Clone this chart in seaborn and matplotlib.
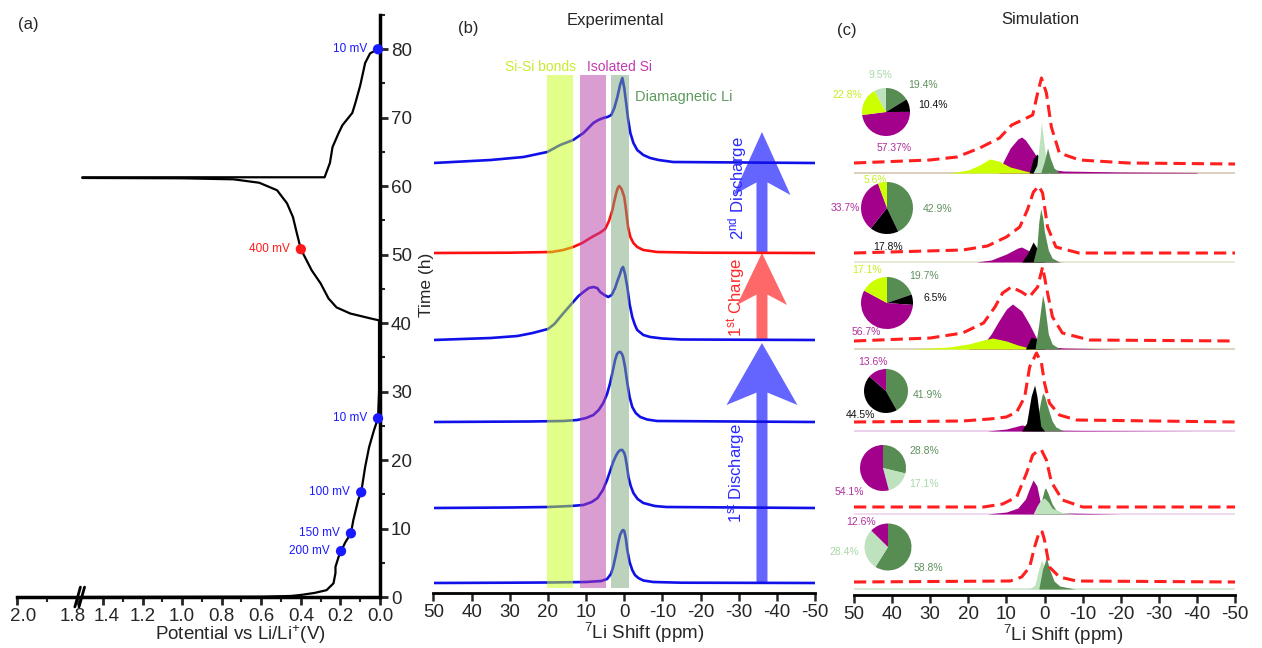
import numpy as np
import matplotlib
matplotlib.use("Agg")
import matplotlib.pyplot as plt
import seaborn as sns
from matplotlib.patches import Polygon
from matplotlib.ticker import FixedLocator, MultipleLocator, FormatStrFormatter
from matplotlib.transforms import ScaledTranslation

# ---------------- data: panel (a) ----------------
dis1_V = [1.73, 0.60, 0.45, 0.40, 0.33, 0.27, 0.235, 0.225, 0.225, 0.21, 0.197, 0.175, 0.147, 0.135, 0.11, 0.095, 0.075, 0.055, 0.03, 0.01, 0.005, 0.005]
dis1_t = [0.0, 0.05, 0.15, 0.3, 0.6, 1.0, 2.0, 3.5, 4.4, 5.8, 6.7, 8.0, 9.3, 11.2, 14.2, 15.3, 19.0, 21.9, 24.4, 26.1, 30.0, 40.4]
chg_V = [0.005, 0.05, 0.15, 0.22, 0.26, 0.30, 0.345, 0.40, 0.42, 0.44, 0.47, 0.52, 0.61, 0.74, 1.0, 1.73]
chg_t = [40.4, 40.7, 41.4, 42.3, 43.6, 45.8, 47.7, 50.8, 53.1, 55.5, 57.5, 59.4, 60.5, 61.0, 61.15, 61.2]
dis2_V = [1.73, 0.28, 0.253, 0.24, 0.21, 0.19, 0.14, 0.125, 0.10, 0.075, 0.05, 0.01]
dis2_t = [61.3, 61.3, 63.4, 65.7, 67.7, 68.9, 70.7, 72.1, 74.7, 78.0, 79.4, 80.0]
mark_blue_V = [0.197, 0.147, 0.095, 0.01, 0.01]
mark_blue_t = [6.7, 9.3, 15.3, 26.1, 80.0]
mark_blue_lab = ["200 mV", "150 mV", "100 mV", "10 mV", "10 mV"]
mark_red_V = [0.40]
mark_red_t = [50.8]
mark_red_lab = ["400 mV"]
a_xticks = [2.0, 1.8, 1.4, 1.2, 1.0, 0.8, 0.6, 0.4, 0.2, 0.0]
a_xminor = [1.9, 1.3, 1.1, 0.9, 0.7, 0.5, 0.3, 0.1]

# ---------------- data: panel (b) experimental ----------------
exp1_x = [50, 30, 20, 10, 6, 4.5, 3.5, 2.9, 2.2, 1.6, 1.1, 0.6, 0.3, 0, -0.4, -0.8, -1.4, -2.1, -2.8, -3.7, -5, -7.6, -15, -50]
exp1_y = [0, 0.3, 0.5, 1, 2, 4, 9, 16, 28, 40, 48, 52, 53, 52, 45, 33, 21, 13, 8, 5, 2.5, 1, 0.3, 0]
exp2_x = [50, 30, 20, 14, 10.7, 8.5, 7, 5.6, 4.5, 3.6, 2.9, 2.2, 1.6, 1.0, 0.5, 0, -0.3, -0.7, -1.1, -1.7, -2.4, -3.5, -5, -8, -11, -50]
exp2_y = [0, 0.5, 1, 2, 3, 6, 10, 18, 28, 38, 46, 52, 56, 58, 58, 55, 51, 42, 31, 22, 15, 9, 5, 2, 1, 0]
exp3_x = [50, 25, 16, 12.3, 10, 8.1, 6.7, 5.5, 4.5, 3.7, 3.0, 2.4, 1.9, 1.4, 1.0, 0.6, 0.3, -0.2, -0.8, -1.4, -2.1, -3, -4.2, -6, -8.6, -50]
exp3_y = [0, 0.5, 1, 2, 4, 7, 12, 19, 28, 39, 51, 62, 68, 70, 70, 68, 65, 55, 39, 25, 15, 9, 5, 2.5, 1, 0]
exp4_x = [50, 35, 28, 24, 20, 18.3, 16.8, 15, 13.4, 12, 10.7, 9.3, 8.1, 7.1, 6.3, 5.2, 4.2, 3.3, 2.4, 1.7, 1.2, 0.7, 0.3, -0.2, -0.8, -1.4, -2.1, -2.8, -3.4, -5, -6.8, -10, -15, -50]
exp4_y = [0, 2, 4, 7, 11, 16, 23, 31, 38, 44, 48, 52, 53, 52, 48, 45, 43, 45, 52, 60, 65, 71, 73, 66, 53, 36, 23, 15, 10, 5, 3, 1.5, 0.5, 0]
exp5_x = [50, 30, 19, 16, 13.4, 11, 8.9, 7.5, 6.5, 5.0, 4, 3.1, 2.6, 2.1, 1.7, 1.3, 0.7, 0, -0.5, -1, -1.6, -2.4, -3.4, -5, -8.6, -20, -50]
exp5_y = [0, 0.3, 1, 3, 6, 10, 15, 18, 20, 24, 32, 43, 52, 60, 65, 67, 64, 56, 42, 26, 16, 10, 6, 3, 1, 0.3, 0]
exp6_x = [50, 35, 26.4, 20.2, 16.8, 13.4, 10.7, 8.1, 6.8, 5.5, 4.4, 3.4, 2.6, 1.8, 1.1, 0.5, 0, -0.5, -1.0, -1.6, -2.4, -3.4, -5, -6.8, -9, -12.8, -50]
exp6_y = [0, 3, 6, 11, 18, 23, 30, 40, 43, 45, 46, 48, 55, 66, 78, 85, 75, 60, 44, 30, 20, 13, 8, 5, 3, 1, 0]
exp_offsets = [10, 85, 171, 253, 340, 430]
exp_colors = ["#1010e8", "#1010e8", "#1010e8", "#1010e8", "#ff1010", "#1010e8"]
band_lo = [20.2, 11.6, 3.5]
band_hi = [13.4, 4.8, -1.2]
band_names = ["Si-Si bonds", "Isolated Si", "Diamagnetic Li"]
ppm_ticks = [50, 40, 30, 20, 10, 0, -10, -20, -30, -40, -50]

# ---------------- data: panel (c) simulation (rows from bottom) ----------------
sim1_env_x = [50, 9, 6, 3.9, 2.6, 1.3, 0.6, 0, -1.3, -3.9, -8.4, -50]
sim1_env_y = [7, 8, 12, 22, 42, 58, 57, 49, 22, 12, 8, 7]
sim1_lg_x = [4, 2.5, 1.5, 0.8, 0, -1, -2, -4]
sim1_lg_y = [0, 4, 20, 29, 22, 10, 4, 0]
sim1_dg_x = [1.5, 0.5, -0.5, -1.5, -2.5, -4, -8]
sim1_dg_y = [0, 20, 31, 18, 8, 3, 0]
sim1_pie = [58.8, 28.4, 12.6]

sim2_env_x = [50, 16, 11, 7.3, 4.7, 3.1, 1.8, 0.8, -0.5, -1.8, -4.7, -10, -50]
sim2_env_y = [7, 7, 10, 17, 41, 59, 63, 64, 54, 32, 14, 7, 7]
sim2_mg_x = [15, 10, 7, 5, 4, 3, 2, 1, 0, -5, -20]
sim2_mg_y = [0, 2, 6, 15, 25, 34, 28, 10, 3, 1, 0]
sim2_dg_x = [2, 1, 0, -0.3, -1, -2, -3, -5]
sim2_dg_y = [0, 10, 25, 26, 20, 10, 4, 0]
sim2_lg_x = [3, 2, 1, 0, -1, -2, -4, -8]
sim2_lg_y = [0, 8, 14, 16, 12, 6, 2, 0]
sim2_pie = [28.8, 17.1, 54.1]

sim3_env_x = [50, 21.5, 14.4, 10, 7.3, 5.2, 3.9, 2.1, 0.8, 0, -1.3, -3.9, -8.4, -50]
sim3_env_y = [9, 10, 12, 14, 19, 34, 64, 78, 68, 48, 28, 16, 11, 9]
sim3_mg_x = [15, 10, 6, 3, 0, -10, -40]
sim3_mg_y = [0, 2, 6, 4, 1, 0.5, 0]
sim3_dg_x = [3, 2, 1, 0.5, 0, -1, -2, -3, -5]
sim3_dg_y = [0, 10, 30, 38, 35, 22, 10, 4, 0]
sim3_bk_x = [6, 4.7, 3.5, 2.6, 2, 1.5, 1, 0]
sim3_bk_y = [0, 8, 35, 46, 35, 20, 5, 0]
sim3_pie = [41.9, 44.5, 13.6]

sim4_env_x = [50, 30, 21.5, 16, 13, 11, 8.7, 6, 4, 1.8, 0.5, -0.8, -2.1, -4.7, -11.8, -50]
sim4_env_y = [8, 11, 16, 26, 42, 56, 62, 57, 52, 62, 82, 56, 32, 16, 9, 8]
sim4_mg_x = [20, 16, 14, 12, 10, 8.4, 6, 4, 2, 0, -5, -20]
sim4_mg_y = [0, 5, 15, 28, 40, 45, 38, 25, 10, 3, 1, 0]
sim4_yl_x = [35, 25, 20, 16, 13.6, 10, 7, 4, 0]
sim4_yl_y = [0, 2, 5, 9, 11, 8, 4, 1, 0]
sim4_bk_x = [5, 3.5, 2, 1, 0]
sim4_bk_y = [0, 12, 10, 3, 0]
sim4_dg_x = [2.5, 1.5, 0.5, 0, -0.5, -1, -2, -4]
sim4_dg_y = [0, 25, 54, 45, 30, 15, 5, 0]
sim4_pie = [19.7, 6.5, 56.7, 17.1]

sim5_env_x = [50, 21.5, 15, 10, 6.5, 4.5, 2.9, 1.5, 0.5, -0.8, -3, -9, -50]
sim5_env_y = [9, 12, 16, 25, 35, 52, 70, 76, 69, 35, 15, 9, 9]
sim5_mg_x = [18, 14, 10, 7, 6, 4, 2, 0, -5]
sim5_mg_y = [0, 2, 8, 14, 15, 11, 5, 1, 0]
sim5_bk_x = [6, 4.5, 3, 2, 1, 0]
sim5_bk_y = [0, 8, 20, 14, 5, 0]
sim5_dg_x = [3, 2, 1.5, 1, 0.5, 0, -1, -2, -4]
sim5_dg_y = [0, 15, 40, 53, 45, 30, 12, 4, 0]
sim5_pie = [42.9, 17.8, 33.7, 5.6]

sim6_env_x = [50, 30.1, 23, 17, 11.8, 8.6, 5.8, 3.1, 1.8, 0.8, -0.5, -1.8, -3.9, -9.2, -22, -50]
sim6_env_y = [10, 13, 16, 25, 35, 48, 53, 58, 80, 95, 80, 46, 20, 13, 10, 9]
sim6_yl_x = [25, 20, 17, 14.4, 12, 9, 5, 3]
sim6_yl_y = [0, 3, 8, 14, 12, 6, 2, 0]
sim6_mg_x = [12, 11, 9, 7, 6, 5, 3, 1, -1, -5, -20, -40]
sim6_mg_y = [0, 10, 25, 34, 36, 33, 22, 10, 4, 2, 1, 0.5]
sim6_bk_x = [4, 3, 2, 1, 0, -1]
sim6_bk_y = [0, 14, 19, 14, 4, 0]
sim6_lg_x = [3, 2, 1.2, 0.8, 0.3, -0.5, -1.5]
sim6_lg_y = [0, 8, 35, 51, 35, 10, 0]
sim6_dg_x = [1, 0, -0.8, -1.5, -2.5, -4]
sim6_dg_y = [0, 12, 25, 15, 5, 0]
sim6_pie = [19.4, 10.4, 57.37, 22.8, 9.5]

sim_offsets = [6, 81, 164, 246, 333, 422]

# ---------------- colours ----------------
C_YEL = "#ccff00"
C_MAG = "#a3008c"
C_BLK = "#000000"
C_LG = "#bde2bd"
C_DG = "#578c53"
C_RED = "#ff1f1f"

# ---------------- style ----------------
sns.set_style("white")
plt.rcParams["font.family"] = ["Liberation Sans", "DejaVu Sans"]
plt.rcParams["mathtext.fontset"] = "custom"
plt.rcParams["mathtext.rm"] = "Liberation Sans"
plt.rcParams["mathtext.it"] = "Liberation Sans:italic"
plt.rcParams["mathtext.bf"] = "Liberation Sans:bold"

W, H = 1262, 648
fig = plt.figure(figsize=(W / 100, H / 100), dpi=100)


def rect(l, t, r, b):
    return [l / W, 1 - b / H, (r - l) / W, (b - t) / H]


def fwd(v):
    v = np.asarray(v, dtype=float)
    return np.where(v <= 1.4, v, np.where(v <= 1.8, 1.4 + (v - 1.4) * 0.316, 1.5264 + (v - 1.8) * 1.54))


def inv(p):
    p = np.asarray(p, dtype=float)
    return np.where(p <= 1.4, p, np.where(p <= 1.5264, 1.4 + (p - 1.4) / 0.316, 1.8 + (p - 1.5264) / 1.54))


TICK_FS = 13.5

# ================= panel (a) =================
axA = fig.add_axes(rect(17, 15, 380, 597))
for xs, ys in [(dis1_V, dis1_t), (chg_V, chg_t), (dis2_V, dis2_t)]:
    sns.lineplot(x=xs, y=ys, sort=False, estimator=None, color="black", linewidth=1.6, ax=axA)
sns.scatterplot(x=mark_blue_V, y=mark_blue_t, color="#1a1aff", s=55, edgecolor="none", ax=axA, zorder=5, clip_on=False)
sns.scatterplot(x=mark_red_V, y=mark_red_t, color="#ff1a1a", s=55, edgecolor="none", ax=axA, zorder=5)
for v, t, lab in zip(mark_blue_V, mark_blue_t, mark_blue_lab):
    axA.annotate(lab, (v, t), xytext=(-8, 0), textcoords="offset points", ha="right", va="center",
                 fontsize=8.5, color="#1a1aff")
for v, t, lab in zip(mark_red_V, mark_red_t, mark_red_lab):
    axA.annotate(lab, (v, t), xytext=(-8, 0), textcoords="offset points", ha="right", va="center",
                 fontsize=8.5, color="#ff1a1a")
axA.set_xscale("function", functions=(fwd, inv))
axA.set_xlim(2.0, 0.0)
axA.set_ylim(0, 85)
axA.xaxis.set_major_locator(FixedLocator(a_xticks))
axA.xaxis.set_minor_locator(FixedLocator(a_xminor))
axA.xaxis.set_major_formatter(FormatStrFormatter("%.1f"))
axA.yaxis.set_major_locator(MultipleLocator(10))
axA.yaxis.set_minor_locator(MultipleLocator(5))
axA.yaxis.tick_right()
for s in ["top", "left"]:
    axA.spines[s].set_visible(False)
for s in ["right", "bottom"]:
    axA.spines[s].set_linewidth(2.5)
    axA.spines[s].set_color("black")
axA.tick_params(which="major", direction="out", length=6, width=2, labelsize=TICK_FS, pad=2,
                bottom=True, right=True, left=False)
axA.tick_params(which="minor", direction="out", length=3.5, width=1.5, bottom=True, right=True, left=False)
axA.set_xlabel("Potential vs Li/Li$^{+}$(V)", fontsize=13.5)
axA.xaxis.set_label_coords(0.614, -0.045)
axA.set_ylabel("")
axA.text(1.129, 0.536, "Time (h)", transform=axA.transAxes, rotation=90, ha="center", va="center", fontsize=12.5)
for pc in (1.507, 1.528):
    xs = inv(np.array([pc + 0.014, pc - 0.014]))
    axA.plot(xs, [-0.017, 0.017], transform=axA.get_xaxis_transform(), color="black", lw=2, clip_on=False)

# ================= panel (b) =================
axB = fig.add_axes(rect(433.5, 40, 815, 593))
exp_x = [exp1_x, exp2_x, exp3_x, exp4_x, exp5_x, exp6_x]
exp_y = [exp1_y, exp2_y, exp3_y, exp4_y, exp5_y, exp6_y]
for xs, ys, off, col in zip(exp_x, exp_y, exp_offsets, exp_colors):
    sns.lineplot(x=xs, y=np.array(ys) + off, sort=False, estimator=None, color=col, linewidth=1.9, ax=axB, zorder=2)

band_cols = ["#c6ff17", "#b43ca6", "#7aa67a"]
for lo, hi, c in zip(band_lo, band_hi, band_cols):
    axB.axvspan(hi, lo, ymin=5 / 553, ymax=518 / 553, color=c, alpha=0.5, lw=0, zorder=3)
axB.text(22.0, 526, band_names[0], color="#c5ec2e", fontsize=10, ha="center", va="center")
axB.text(1.3, 526, band_names[1], color="#c23bb0", fontsize=10, ha="center", va="center")
axB.text(-2.9, 496, band_names[2], color="#5e9a5e", fontsize=10.5, ha="left", va="center")

ppm_per_px = 100 / 381.5


def arrow_poly(ax, x0, y0, y1, sw_px, hw_px, hl_px, color):
    sw = sw_px / 2 * ppm_per_px
    hw = hw_px / 2 * ppm_per_px
    notch = hl_px * 0.2
    pts = [(x0 + sw, y0), (x0 + sw, y1 - hl_px + notch), (x0 + hw, y1 - hl_px), (x0, y1),
           (x0 - hw, y1 - hl_px), (x0 - sw, y1 - hl_px + notch), (x0 - sw, y0)]
    ax.add_patch(Polygon(pts, closed=True, facecolor=color, edgecolor="none", zorder=1))


ax_x = -36.1
arrow_poly(axB, ax_x, 10, 250, 11, 71, 62, "#6464ff")
arrow_poly(axB, ax_x, 252, 340, 11, 50, 52, "#ff6868")
arrow_poly(axB, ax_x, 340, 461, 11, 57, 63, "#6464ff")
axB.text(-29.6, 120, r"1$^{\mathregular{st}}$ Discharge", rotation=90, color="#2a2aff", fontsize=12, ha="center", va="center")
axB.text(-29.6, 296, r"1$^{\mathregular{st}}$ Charge", rotation=90, color="#ff2a2a", fontsize=12, ha="center", va="center")
axB.text(-29.6, 405, r"2$^{\mathregular{nd}}$ Discharge", rotation=90, color="#2a2aff", fontsize=12, ha="center", va="center")

# ================= panel (c) =================
axC = fig.add_axes(rect(854, 40, 1235, 595))
rows = [
    dict(env=(sim1_env_x, sim1_env_y), comps=[(sim1_lg_x, sim1_lg_y, C_LG), (sim1_dg_x, sim1_dg_y, C_DG)],
         pie=sim1_pie, pcols=[C_DG, C_LG, C_MAG], base="#cfe6cf"),
    dict(env=(sim2_env_x, sim2_env_y), comps=[(sim2_mg_x, sim2_mg_y, C_MAG), (sim2_dg_x, sim2_dg_y, C_DG), (sim2_lg_x, sim2_lg_y, C_LG)],
         pie=sim2_pie, pcols=[C_DG, C_LG, C_MAG], base="#ecd4ec"),
    dict(env=(sim3_env_x, sim3_env_y), comps=[(sim3_mg_x, sim3_mg_y, C_MAG), (sim3_dg_x, sim3_dg_y, C_DG), (sim3_bk_x, sim3_bk_y, C_BLK)],
         pie=sim3_pie, pcols=[C_DG, C_BLK, C_MAG], base="#e8c8e8"),
    dict(env=(sim4_env_x, sim4_env_y), comps=[(sim4_mg_x, sim4_mg_y, C_MAG), (sim4_yl_x, sim4_yl_y, C_YEL), (sim4_bk_x, sim4_bk_y, C_BLK), (sim4_dg_x, sim4_dg_y, C_DG)],
         pie=sim4_pie, pcols=[C_DG, C_BLK, C_MAG, C_YEL], base="#d8ceb4"),
    dict(env=(sim5_env_x, sim5_env_y), comps=[(sim5_mg_x, sim5_mg_y, C_MAG), (sim5_bk_x, sim5_bk_y, C_BLK), (sim5_dg_x, sim5_dg_y, C_DG)],
         pie=sim5_pie, pcols=[C_DG, C_BLK, C_MAG, C_YEL], base="#dfe6cc"),
    dict(env=(sim6_env_x, sim6_env_y), comps=[(sim6_mg_x, sim6_mg_y, C_MAG), (sim6_yl_x, sim6_yl_y, C_YEL), (sim6_bk_x, sim6_bk_y, C_BLK),
                                              (sim6_lg_x, sim6_lg_y, C_LG), (sim6_dg_x, sim6_dg_y, C_DG)],
         pie=sim6_pie, pcols=[C_DG, C_BLK, C_MAG, C_YEL, C_LG], base="#d4c6b0"),
]
for row, off in zip(rows, sim_offsets):
    axC.axhline(off, color=row["base"], lw=1.2, zorder=1)
    for xs, ys, c in row["comps"]:
        axC.fill_between(xs, off, np.array(ys) + off, color=c, lw=0, zorder=2)
    ex, ey = row["env"]
    sns.lineplot(x=ex, y=np.array(ey) + off, sort=False, estimator=None, color=C_RED, linewidth=2.2,
                 linestyle="--", ax=axC, zorder=4)
    axC.lines[-1].set_dashes((4, 2))

# pies (centre x, centre y, radius in pixels)
pie_geom = [(888, 547, 23.5), (883, 468, 23), (886, 391, 22), (887, 303, 26), (887, 208, 26), (886, 112, 24)]
for row, (cx, cy, r) in zip(rows, pie_geom):
    pax = fig.add_axes(rect(cx - r, cy - r, cx + r, cy + r))
    pax.pie(row["pie"], colors=row["pcols"], startangle=90, counterclock=False, wedgeprops=dict(linewidth=0))
    pax.set_xlim(-1, 1)
    pax.set_ylim(-1, 1)
    pax.set_aspect("equal")
    pax.axis("off")

TXT_LG = "#a8d8a8"
TXT_DG = "#5e905e"
TXT_MG = "#b0309c"
TXT_YL = "#c4f020"
pie_labels = [
    [("58.8%", 928, 568, TXT_DG), ("28.4%", 844, 552, TXT_LG), ("12.6%", 861, 522, TXT_MG)],
    [("28.8%", 924, 451, TXT_DG), ("17.1%", 924, 484, TXT_LG), ("54.1%", 849, 492, TXT_MG)],
    [("41.9%", 928, 395, TXT_DG), ("44.5%", 860, 415, "#111111"), ("13.6%", 873, 362, TXT_MG)],
    [("19.7%", 924, 276, TXT_DG), ("6.5%", 935, 298, "#111111"), ("56.7%", 866, 332, TXT_MG), ("17.1%", 867, 270, TXT_YL)],
    [("42.9%", 938, 209, TXT_DG), ("17.8%", 888, 247, "#111111"), ("33.7%", 845, 208, TXT_MG), ("5.6%", 875, 180, TXT_YL)],
    [("19.4%", 923, 85, TXT_DG), ("10.4%", 933, 105, "#111111"), ("57.37%", 894, 148, TXT_MG), ("22.8%", 847, 95, TXT_YL), ("9.5%", 880, 75, TXT_LG)],
]
for labs in pie_labels:
    for txt, x, y, c in labs:
        fig.text(x / W, 1 - y / H, txt, color=c, fontsize=7.5, ha="center", va="center")

# common styling for spectra axes
for ax, ylim, lx in [(axB, 553, 0.552), (axC, 555, 0.549)]:
    ax.set_xlim(50, -50)
    ax.set_ylim(0, ylim)
    ax.set_xticks(ppm_ticks)
    ax.set_xticklabels([str(t) for t in ppm_ticks])
    ax.set_yticks([])
    for s in ["top", "left", "right"]:
        ax.spines[s].set_visible(False)
    ax.spines["bottom"].set_linewidth(2)
    ax.spines["bottom"].set_color("black")
    ax.tick_params(axis="x", which="major", direction="out", length=6, width=1.8, labelsize=TICK_FS, pad=2, bottom=True)
    ax.set_xlabel(r"$\mathregular{^{7}}$Li Shift (ppm)", fontsize=13.5)
    ax.xaxis.set_label_coords(lx, -0.05)
    ax.set_ylabel("")

fig.text(18 / W, 1 - 25 / H, "(a)", fontsize=12, ha="left", va="center")
fig.text(458 / W, 1 - 28 / H, "(b)", fontsize=12, ha="left", va="center")
fig.text(615 / W, 1 - 20 / H, "Experimental", fontsize=12, ha="center", va="center")
fig.text(837 / W, 1 - 30 / H, "(c)", fontsize=12, ha="left", va="center")
fig.text(1040 / W, 1 - 20 / H, "Simulation", fontsize=12, ha="center", va="center")

# nudge crowded tick labels next to the axis break apart
label_shift_px = {2.0: 6, 1.8: -5, 1.4: 4}
for tick, val in zip(axA.xaxis.get_major_ticks(), a_xticks):
    if val in label_shift_px:
        lbl = tick.label1
        lbl.set_transform(lbl.get_transform() + ScaledTranslation(label_shift_px[val] / 100, 0, fig.dpi_scale_trans))

fig.savefig("out.png", dpi=100)
